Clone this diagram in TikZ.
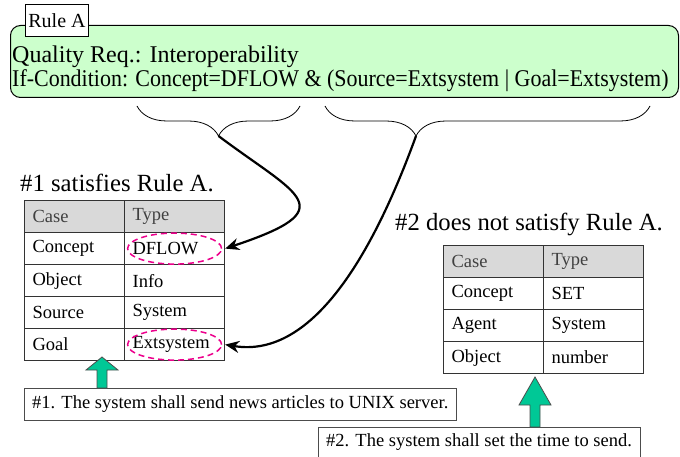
\documentclass[tikz,border=0pt]{standalone}
\usepackage{graphicx}
\usepackage{fontspec}
\setmainfont{Liberation Serif}
\usetikzlibrary{arrows.meta,shapes.geometric,decorations.pathreplacing,positioning}
\definecolor{rulegreen}{RGB}{204,255,204}
\definecolor{arrowgreen}{RGB}{0,200,150}
\definecolor{headgray}{RGB}{217,217,217}

\begin{document}
\begin{tikzpicture}[x=1pt,y=-1pt,>={Stealth[length=14pt,width=12pt]},
  cell/.style={draw=black!80,line width=1.2pt,anchor=north west,minimum width=100pt,minimum height=32pt,text width=84pt,inner xsep=8pt,inner ysep=0pt,align=left,font=\fontsize{18.5}{20}\selectfont},
  head/.style={cell,fill=headgray,text=black!75},
  hl/.style={ellipse,draw=magenta,line width=1.5pt,dash pattern=on 6pt off 4pt,minimum width=94pt,minimum height=31pt},
  note/.style={draw=black!70,anchor=north west,minimum height=32pt,inner xsep=8pt,font=\fontsize{18.5}{20}\selectfont},
  title/.style={anchor=base west,inner sep=0pt,font=\fontsize{24.7}{26}\selectfont},
  brace/.style={decorate,decoration={brace,mirror,amplitude=30pt},line width=0.8pt},
  link/.style={->,line width=2.2pt},
  blockarrow/.style={draw=black!70,fill=arrowgreen,line width=0.8pt}]

\useasboundingbox (0,0) rectangle (680,457);

% the rule
\node[draw,rounded corners=10pt,fill=rulegreen,line width=1pt,anchor=north west,minimum width=668pt,minimum height=72pt] (rule) at (10,25) {};
\node[draw,fill=white,line width=1pt,minimum width=59pt,minimum height=32pt,font=\fontsize{20}{22}\selectfont] (tag) at (57,21) {Rule A};
\node[anchor=base west,inner sep=0pt,font=\fontsize{24}{26}\selectfont] (req) at (12,63) {Quality Req.: Interoperability};
\node[anchor=base west,inner sep=0pt,font=\fontsize{24}{26}\selectfont] (cond) at (12,87) {\scalebox{0.915}[1]{If-Condition: Concept=DFLOW \& (Source=Extsystem | Goal=Extsystem)}};

% braces under the condition
\coordinate (b1a) at (137,106);
\coordinate (b1b) at (300,106);
\coordinate (b2a) at (325,106);
\coordinate (b2b) at (650,106);
\coordinate (t1) at (218.5,136);
\coordinate (t2) at (416,136);
\draw[brace] (b1a) -- (b1b);
\draw[brace,decoration={aspect=0.28}] (b2a) -- (b2b);

% requirement #1
\node[title] (s1) at (20,192) {\#1 satisfies Rule A.};
\node[head] (h1) at (24,200) {Case};
\node[head] (h2) at (124,200) {Type};
\foreach \c/\t [count=\i] in {Concept/DFLOW,Object/Info,Source/System,Goal/Extsystem}
  {
  \node[cell] (a\i) at (24,200+32*\i) {\c};
  \node[cell] (b\i) at (124,200+32*\i) {\t};
  }
\node[hl] (e1) at (b1.center) {};
\node[hl] (e2) at (b4.center) {};

\draw[link] (t1) .. controls +(80,60) and +(120,-40) .. (b1.east);
\draw[link] (t2) .. controls +(-40,110) and +(90,15) .. (b4.east);

% requirement #2
\node[title] (s2) at (395,230) {\#2 does not satisfy Rule A.};
\node[head] (h3) at (443,245) {Case};
\node[head] (h4) at (543,245) {Type};
\foreach \c/\t [count=\i] in {Concept/SET,Agent/System,Object/number}
  {
  \node[cell] (c\i) at (443,245+32*\i) {\c};
  \node[cell] (d\i) at (543,245+32*\i) {\t};
  }

% sentences
\node[note] (n1) at (24,388) {\#1. The system shall send news articles to UNIX server.};
\node[note,minimum height=30pt] (n2) at (318,427) {\#2. The system shall set the time to send.};

\draw[blockarrow] (102,357) -- ++(16,13) -- ++(-11,0) -- ++(0,18) -- ++(-10,0) -- ++(0,-18) -- ++(-11,0) -- cycle;
\draw[blockarrow] (535,377) -- ++(16,28) -- ++(-11,0) -- ++(0,22) -- ++(-10,0) -- ++(0,-22) -- ++(-11,0) -- cycle;
\end{tikzpicture}
\end{document}
